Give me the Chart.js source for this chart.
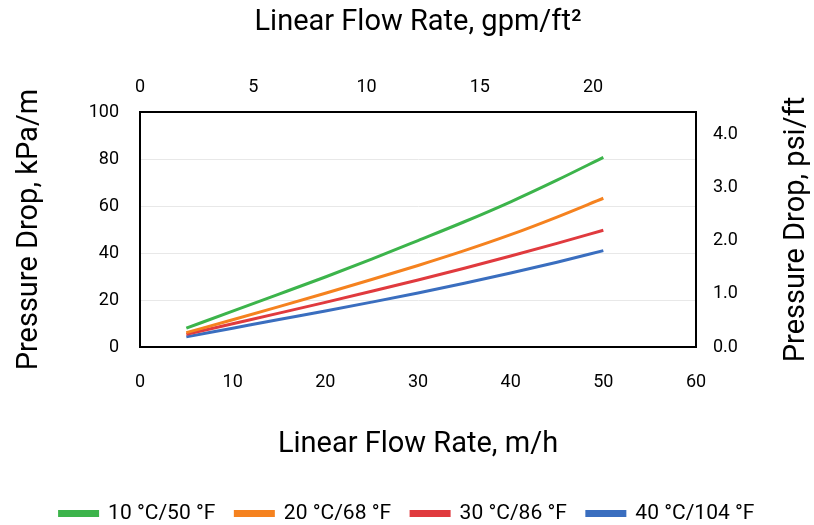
<!DOCTYPE html>
<html>
<head>
<meta charset="utf-8">
<script src="https://cdn.jsdelivr.net/npm/chart.js@4"></script>
<style>
  html, body { margin: 0; padding: 0; background: #fff; }
  #wrap { width: 814px; height: 525px; }
</style>
</head>
<body>
<div id="wrap"><canvas id="chart" width="814" height="525"></canvas></div>
<script>
// flow rate, m/h
const flowRates = [5, 10, 15, 20, 25, 30, 35, 40, 45, 50];

// pressure drop, kPa/m
const drop10C = [8.0, 15.3, 22.5, 29.8, 37.4, 45.3, 53.3, 61.8, 71.0, 80.7];
const drop20C = [6.1, 11.6, 17.2, 22.9, 28.7, 34.7, 41.0, 47.8, 55.3, 63.3];
const drop30C = [5.4, 9.9, 14.4, 19.0, 23.7, 28.5, 33.5, 38.7, 44.1, 49.7];
const drop40C = [4.3, 8.0, 11.7, 15.3, 19.1, 23.0, 27.1, 31.5, 36.1, 41.0];

const seriesLabels = ["10 °C/50 °F", "20 °C/68 °F", "30 °C/86 °F", "40 °C/104 °F"];
const seriesColors = ["#3cb44b", "#f5821f", "#e03a3e", "#3a6ebf"];

// unit conversions for the secondary axes
const M_H_PER_GPM_FT2 = 2.4448;
const KPA_M_PER_PSI_FT = 22.62;

const font = "Roboto, 'Open Sans', sans-serif";
const rightTitle = "Pressure Drop, psi/ft";

function toPoints(values) {
    return flowRates.map((x, i) => ({ x: x, y: values[i] }));
}

const datasets = [drop10C, drop20C, drop30C, drop40C].map((values, i) => ({
    label: seriesLabels[i],
    data: toPoints(values),
    borderColor: seriesColors[i],
    backgroundColor: seriesColors[i],
    borderWidth: 3,
    pointRadius: 0,
    cubicInterpolationMode: "monotone",
    xAxisID: "x",
    yAxisID: "y"
}));

// fixed box sizes so the plot area lands where it should
function fixSize(prop, size) {
    return scale => { scale[prop] = size; };
}

// Chart.js turns right-hand titles the other way, so draw this one by hand
const rightTitlePlugin = {
    id: "rightTitle",
    afterDraw(chart) {
        const { ctx, chartArea } = chart;
        ctx.save();
        ctx.translate(797, (chartArea.top + chartArea.bottom) / 2);
        ctx.rotate(-Math.PI / 2);
        ctx.font = "29px " + font;
        ctx.fillStyle = "#000";
        ctx.textAlign = "center";
        ctx.textBaseline = "middle";
        ctx.fillText(rightTitle, 0, 0);
        ctx.restore();
    }
};

const tickFont = { family: font, size: 18 };
const titleFont = { family: font, size: 29 };
const border = { display: true, color: "#000", width: 2 };

new Chart(document.getElementById("chart"), {
    type: "line",
    data: { datasets: datasets },
    plugins: [rightTitlePlugin],
    options: {
        responsive: false,
        animation: false,
        layout: { padding: { top: 0, left: 0, right: 0, bottom: -9 } },
        plugins: {
            legend: {
                position: "bottom",
                labels: {
                    font: { family: font, size: 21 },
                    color: "#000",
                    boxWidth: 38,
                    boxHeight: 4,
                    padding: 20
                }
            },
            tooltip: { enabled: false }
        },
        scales: {
            x: {
                type: "linear",
                position: "bottom",
                min: 0,
                max: 60,
                ticks: { stepSize: 10, font: tickFont, color: "#000", padding: 25 },
                grid: { display: false, drawTicks: false },
                border: border,
                title: { display: true, text: "Linear Flow Rate, m/h", font: titleFont, color: "#000", padding: { top: 0, bottom: 21 } },
                afterFit: fixSize("height", 136)
            },
            x2: {
                type: "linear",
                position: "top",
                min: 0,
                max: 60 / M_H_PER_GPM_FT2,
                ticks: { stepSize: 5, includeBounds: false, font: tickFont, color: "#000", padding: 14 },
                grid: { display: false, drawTicks: false },
                border: border,
                title: { display: true, text: "Linear Flow Rate, gpm/ft²", font: titleFont, color: "#000", padding: { top: 5, bottom: 0 } },
                afterFit: fixSize("height", 112)
            },
            y: {
                type: "linear",
                position: "left",
                min: 0,
                max: 100,
                ticks: { stepSize: 20, font: tickFont, color: "#000", padding: 21 },
                grid: { color: "#e8e8e8", lineWidth: 1, drawTicks: false },
                border: border,
                title: { display: true, text: "Pressure Drop, kPa/m", font: titleFont, color: "#000", padding: { top: 12, bottom: 0 } },
                afterFit: fixSize("width", 140)
            },
            y2: {
                type: "linear",
                position: "right",
                min: 0,
                max: 100 / KPA_M_PER_PSI_FT,
                ticks: {
                    stepSize: 1,
                    includeBounds: false,
                    font: tickFont,
                    color: "#000",
                    padding: 17,
                    callback: v => v.toFixed(1)
                },
                grid: { display: false, drawTicks: false },
                border: border,
                title: { display: false },
                afterFit: fixSize("width", 118)
            }
        }
    }
});
</script>
</body>
</html>
